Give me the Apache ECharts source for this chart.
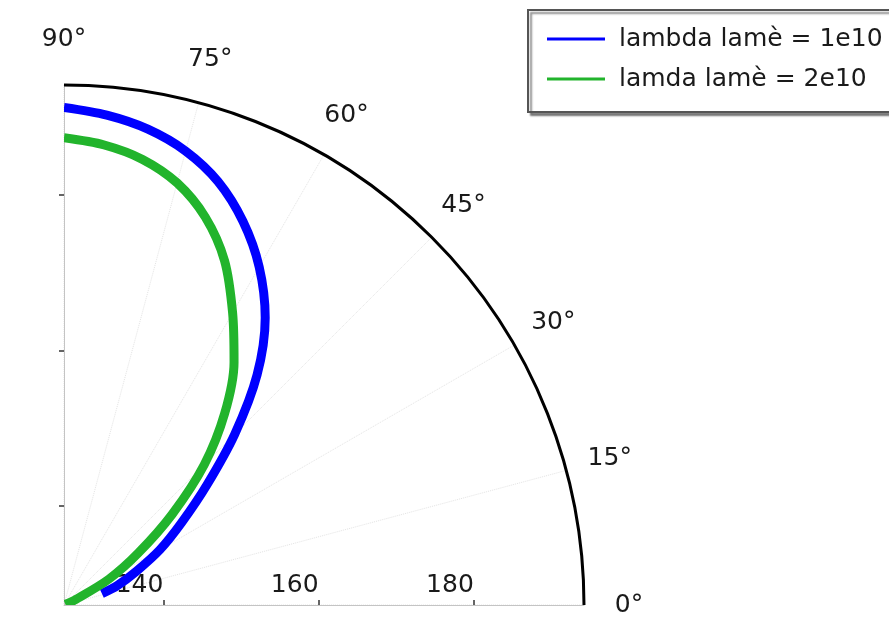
<!DOCTYPE html>
<html><head><meta charset="utf-8">
<script src="https://cdn.jsdelivr.net/npm/echarts@6/dist/echarts.min.js"></script>
<style>html,body{margin:0;padding:0;background:#fff}#c{width:889px;height:643px}</style>
</head><body><div id="c"></div>
<script>
const seriesNames = ['lambda lamè = 1e10', 'lamda lamè = 2e10'];
const angleTicks = [0, 15, 30, 45, 60, 75, 90];
const radiusTicks = [140, 160, 180];
const radiusMin = 127.2;
const radiusMax = 194.2;
const angleLabelRadius = 200.0;

const blueAngles = [90, 85, 80, 75, 70, 65, 60, 55, 50, 45, 40, 35, 30, 25, 20, 16.8];
const blueRadii  = [191.3, 190.55, 189.45, 187.75, 185.25, 181.75, 177.5, 172.4, 165.9, 158.3, 151.2, 145.7, 141.5, 137.5, 134.5, 132.3];

const greenAngles = [90, 85, 80, 75, 70, 65, 60, 55, 50, 45, 40, 35, 30, 25, 23.5];
const greenRadii  = [187.4, 186.7, 185.5, 183.5, 180.4, 176.15, 170.65, 165.4, 159.4, 152.75, 145.4, 138.9, 133.9, 128.9, 127.4];

const FONT = 'DejaVu Sans';
const TXT = '#1a1a1a';

const chart = echarts.init(document.getElementById('c'), null, {renderer: 'canvas'});
chart.setOption({
  backgroundColor: '#ffffff',
  animation: false,
  polar: [
    {center: [64, 605], radius: 520},
    {center: [64, 605], radius: 520}
  ],
  angleAxis: [
    {
      polarIndex: 0, type: 'value', min: 0, max: 90, interval: 15,
      startAngle: 0, endAngle: 90, clockwise: false,
      axisLine: {show: true, lineStyle: {color: '#000', width: 3}},
      axisTick: {show: false},
      axisLabel: {show: false},
      splitLine: {show: true, lineStyle: {color: '#e4e4e4', type: 'dotted', width: 1}}
    },
    {
      polarIndex: 1, type: 'value', min: 0, max: 90,
      startAngle: 90, endAngle: 0, clockwise: true,
      axisLine: {show: false}, axisTick: {show: false}, axisLabel: {show: false}, splitLine: {show: false}
    }
  ],
  radiusAxis: [
    {
      polarIndex: 0, type: 'value', min: radiusMin, max: radiusMax,
      axisLine: {show: true, lineStyle: {color: '#c4c4c4', width: 1}},
      axisTick: {show: true, customValues: radiusTicks, length: 5, lineStyle: {color: '#333', width: 1.5}},
      axisLabel: {show: true, customValues: radiusTicks, align: 'right', margin: 7, color: TXT, fontSize: 25, fontFamily: FONT},
      splitLine: {show: false}
    },
    {
      polarIndex: 1, type: 'value', min: radiusMin, max: radiusMax,
      axisLine: {show: true, lineStyle: {color: '#c4c4c4', width: 1}},
      axisTick: {show: true, customValues: radiusTicks, length: 5, lineStyle: {color: '#333', width: 1.5}},
      axisLabel: {show: false},
      splitLine: {show: false}
    }
  ],
  legend: {
    orient: 'vertical', left: 528, top: 10,
    data: seriesNames,
    icon: 'rect', itemWidth: 58, itemHeight: 3, itemGap: 12,
    padding: [15, 30, 19, 19],
    backgroundColor: '#fff', borderColor: '#555', borderWidth: 2, borderRadius: 0,
    shadowColor: 'rgba(0,0,0,0.45)', shadowOffsetX: 3, shadowOffsetY: 3, shadowBlur: 2,
    textStyle: {fontSize: 25, fontFamily: FONT, color: TXT, lineHeight: 28, padding: [0, 0, 0, 9]}
  },
  series: [
    {
      type: 'scatter', coordinateSystem: 'polar', polarIndex: 0, name: 'angle labels',
      data: angleTicks.map(a => [angleLabelRadius, a]),
      symbol: 'circle', symbolSize: 2, clip: false, silent: true,
      itemStyle: {color: 'rgba(255,255,255,0)'},
      label: {show: true, position: 'inside', formatter: p => p.value[1] + '°',
              color: TXT, fontSize: 25, fontFamily: FONT,
              textBorderWidth: 0, textBorderColor: 'transparent', opacity: 1}
    },
    {
      type: 'line', coordinateSystem: 'polar', polarIndex: 0, name: seriesNames[0],
      data: blueAngles.map((a, i) => [blueRadii[i], a]),
      showSymbol: false, smooth: 0.3,
      lineStyle: {color: '#0000ff', width: 9}, itemStyle: {color: '#0000ff'}
    },
    {
      type: 'line', coordinateSystem: 'polar', polarIndex: 0, name: seriesNames[1],
      data: greenAngles.map((a, i) => [greenRadii[i], a]),
      showSymbol: false, smooth: 0.3,
      lineStyle: {color: '#22b42c', width: 9}, itemStyle: {color: '#22b42c'}
    }
  ]
});
</script>
</body></html>
